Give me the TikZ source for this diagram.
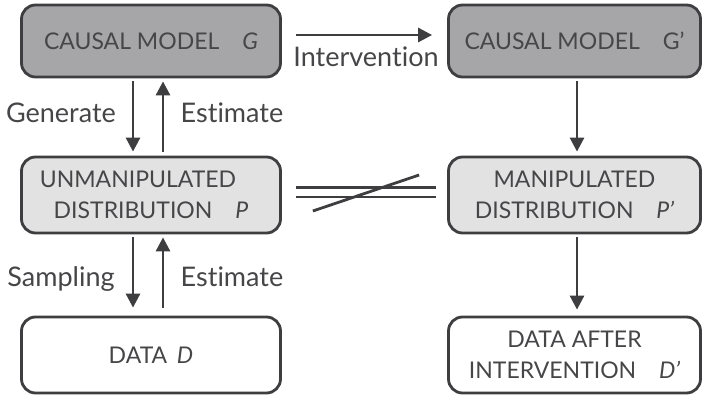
\documentclass[tikz,border=0pt]{standalone}
\usepackage{fontspec}
\setmainfont{Lato}[Ligatures={TeX,NoCommon}]
\usetikzlibrary{arrows.meta,calc}
\definecolor{darkfill}{RGB}{166,166,169}
\definecolor{lightfill}{RGB}{226,226,227}
\definecolor{boxline}{RGB}{62,62,64}
\definecolor{txt}{RGB}{70,70,72}
\definecolor{arrowcol}{RGB}{62,62,64}
\tikzset{
  box/.style={draw=boxline, line width=2.8pt, rounded corners=14pt, text=txt,
    font=\fontsize{23}{31}\selectfont, align=center, inner sep=0pt},
  darkbox/.style={box, fill=darkfill, minimum height=72pt},
  lightbox/.style={box, fill=lightfill, minimum height=76pt},
  plainbox/.style={box, fill=white, minimum height=76pt},
  leftw/.style={minimum width=259pt},
  rightw/.style={minimum width=252pt},
  arr/.style={-{Triangle[width=14pt,length=14pt]}, line width=2.8pt, draw=arrowcol},
  bar/.style={line width=2.8pt, draw=arrowcol},
  lbl/.style={font=\fontsize{27}{30}\selectfont, text=txt, inner sep=0pt, anchor=base}
}
\begin{document}
\begin{tikzpicture}[x=1pt,y=-1pt]
\useasboundingbox (0,0) rectangle (703,395);
% boxes
\node[darkbox,leftw] (G) at (151,41) {CAUSAL MODEL\quad\textit{G}};
\node[darkbox,rightw] (G2) at (574.5,41) {CAUSAL MODEL\quad G’};
\node[lightbox,leftw] (P) at (151,195) {UNMANIPULATED\hspace*{26pt}\\DISTRIBUTION\quad\textit{P}};
\node[lightbox,rightw] (P2) at (574.5,195) {MANIPULATED\\DISTRIBUTION\quad\textit{P’}};
\node[plainbox,leftw] (D) at (151,355) {DATA\, \textit{D}};
\node[plainbox,rightw] (D2) at (574.5,355) {DATA AFTER\\INTERVENTION\quad\textit{D’}};
% left column arrows
\draw[arr] ([xshift=-18pt,yshift=-3pt]G.south) -- ([xshift=-18pt,yshift=4pt]P.north);
\draw[arr] ([xshift=12pt,yshift=4pt]P.north) -- ([xshift=12pt,yshift=-3pt]G.south);
\draw[arr] ([xshift=-18pt,yshift=-3pt]P.south) -- ([xshift=-18pt,yshift=8pt]D.north);
\draw[arr] ([xshift=12pt,yshift=8pt]D.north) -- ([xshift=12pt,yshift=-3pt]P.south);
% right column arrows
\draw[arr] ([xshift=2.5pt,yshift=-3pt]G2.south) -- ([xshift=2.5pt,yshift=4pt]P2.north);
\draw[arr] ([xshift=2.5pt,yshift=-3pt]P2.south) -- ([xshift=2.5pt,yshift=6pt]D2.north);
% intervention
\draw[arr] ([xshift=14pt,yshift=6pt]G.east) -- ([xshift=-15pt,yshift=6pt]G2.west);
% not-equal sign
\draw[bar] ([xshift=14pt,yshift=7.5pt]P.east) -- ([xshift=-11pt,yshift=7.5pt]P2.west);
\draw[bar] ([xshift=14pt,yshift=-2pt]P.east) -- ([xshift=-11pt,yshift=-2pt]P2.west);
\draw[bar] ([xshift=31pt,yshift=-16pt]P.east) -- ([xshift=-28pt,yshift=20pt]P2.west);
% labels
\node[lbl] (lgen) at (61,123) {Generate};
\node[lbl] (lest1) at (232,123) {Estimate};
\node[lbl] (lsam) at (61,286) {Sampling};
\node[lbl] (lest2) at (232,286) {Estimate};
\node[lbl] (lint) at (366,67) {Intervention};
\end{tikzpicture}
\end{document}
